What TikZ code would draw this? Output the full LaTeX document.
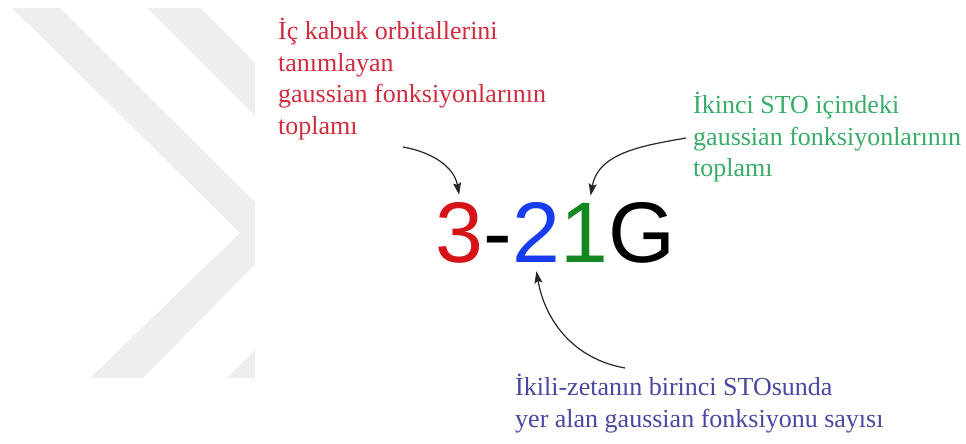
\documentclass[tikz,border=0pt]{standalone}
\usepackage{fontspec}
\setmainfont{Liberation Serif}
\newfontfamily\basisfont{Liberation Sans}
\usepackage{tikz}
\usetikzlibrary{arrows.meta,positioning}
\usepackage{xcolor}
\definecolor{shellred}{RGB}{208,44,62}
\definecolor{valgreen}{RGB}{56,172,104}
\definecolor{zetablue}{RGB}{72,72,160}
\definecolor{digred}{RGB}{212,20,24}
\definecolor{digblue}{RGB}{24,60,240}
\definecolor{diggreen}{RGB}{20,136,32}
\definecolor{markgray}{RGB}{238,238,238}

\begin{document}
\begin{tikzpicture}[x=1pt, y=1pt,
  note/.style={font=\fontsize{26}{31.5}\selectfont, align=left, anchor=north west, inner sep=0pt},
  bigchar/.style={font=\basisfont\fontsize{86}{86}\selectfont, inner xsep=0pt, inner ysep=8pt},
  pointer/.style={line width=1.2pt, black!85, -{Stealth[length=12pt,width=8pt,inset=2pt]}}]
  \useasboundingbox (0,0) rectangle (966,444);
  \begin{scope}
    \clip (0,66) rectangle (255,436);
    \fill[markgray] (12,436) -- (60,436) -- (286,211) -- (143,66) -- (90,66) -- (240,211) -- cycle;
    \fill[markgray] (147,436) -- (200,436) -- (426,211) -- (281,66) -- (227,66) -- (372,211) -- cycle;
  \end{scope}
  \node[note, shellred] (innertext) at (278,426) {İç kabuk orbitallerini\\tanımlayan\\gaussian fonksiyonlarının\\toplamı};
  \node[note, valgreen] (secondtext) at (693,352) {İkinci STO içindeki\\gaussian fonksiyonlarının\\toplamı};
  \node[note, zetablue] (firsttext) at (515,70) {İkili-zetanın birinci STOsunda\\yer alan gaussian fonksiyonu sayısı};
  \node[bigchar, digred, anchor=base west] (three) at (435,181) {3};
  \node[bigchar, base right=0pt of three] (dash) {-};
  \node[bigchar, digblue, base right=0pt of dash] (two) {2};
  \node[bigchar, diggreen, base right=0pt of two] (one) {1};
  \node[bigchar, base right=0pt of one] (gee) {G};
  \coordinate (redtail) at (403,297);
  \coordinate (greentail) at (686,306);
  \coordinate (bluetail) at (625,76);
  \draw[pointer] (redtail) to[out=-10,in=100] (three.north);
  \draw[pointer] (greentail) to[out=190,in=80] ([xshift=6pt]one.north);
  \draw[pointer] (bluetail) to[out=170,in=-80] (two.south);
\end{tikzpicture}
\end{document}
